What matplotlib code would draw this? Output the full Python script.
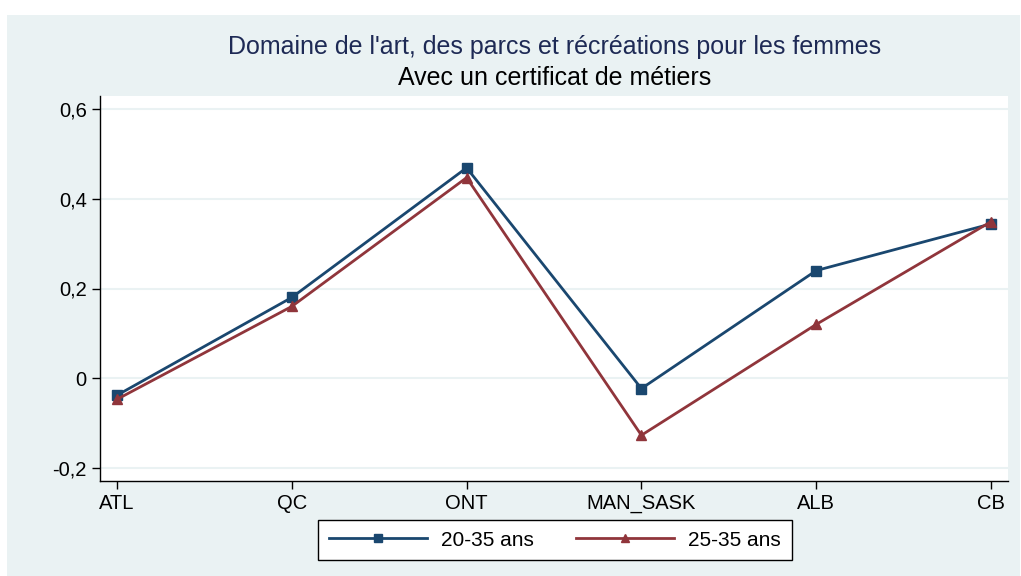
import numpy as np
import matplotlib.pyplot as plt
from matplotlib.patches import Rectangle
from matplotlib.ticker import FuncFormatter

plt.rcParams['font.family'] = ['Liberation Sans', 'DejaVu Sans']

regions = ["ATL", "QC", "ONT", "MAN_SASK", "ALB", "CB"]
age_20_35 = [-0.038, 0.18, 0.469, -0.023, 0.24, 0.344]
age_25_35 = [-0.047, 0.16, 0.447, -0.127, 0.12, 0.349]
yticks = [-0.2, 0, 0.2, 0.4, 0.6]

W, H = 1021, 576
bg = "#eaf2f3"
blue = "#1a476f"
red = "#90353b"

fig = plt.figure(figsize=(W / 100, H / 100), dpi=100, facecolor="white")
fig.patches.append(Rectangle((7 / W, 0), (W - 8) / W, (H - 15) / H,
                             transform=fig.transFigure, facecolor=bg,
                             edgecolor="none", zorder=-10))

ax = fig.add_axes([100 / W, 1 - 481 / H, 908 / W, 385 / H])
ax.set_facecolor("white")

x = np.arange(len(regions))
ax.plot(x, age_20_35, color=blue, lw=2, marker="s", ms=7, label="20-35 ans", zorder=3)
ax.plot(x, age_25_35, color=red, lw=2, marker="^", ms=7, label="25-35 ans", zorder=3)

ax.set_xlim(-0.097, 5.097)
ax.set_ylim(-0.229, 0.629)
ax.set_xticks(x)
ax.set_xticklabels(regions)
ax.set_yticks(yticks)
ax.yaxis.set_major_formatter(FuncFormatter(
    lambda v, p: "0" if abs(v) < 1e-9 else f"{v:.1f}".replace(".", ",")))
ax.grid(axis="y", color=bg, lw=1.5)
ax.set_axisbelow(True)
for s in ["top", "right"]:
    ax.spines[s].set_visible(False)
for s in ["left", "bottom"]:
    ax.spines[s].set_color("black")
    ax.spines[s].set_linewidth(1)
ax.tick_params(axis="both", labelsize=14.5, length=6, color="black", width=1)

fig.text(555 / W, 1 - 47 / H, "Domaine de l'art, des parcs et récréations pour les femmes",
         ha="center", va="center", fontsize=18, color="#1e2a55")
fig.text(555 / W, 1 - 78 / H, "Avec un certificat de métiers",
         ha="center", va="center", fontsize=18, color="black")

leg = fig.legend(loc="center", bbox_to_anchor=(555 / W, 1 - 540 / H), ncol=2,
                 fontsize=15, frameon=True, fancybox=False, edgecolor="black",
                 handlelength=4.7, handletextpad=0.7, columnspacing=2,
                 borderpad=0.5, borderaxespad=0, markerscale=0.8, framealpha=1)
leg.get_frame().set_linewidth(1)

fig.savefig("out.png", dpi=100, facecolor="white")
